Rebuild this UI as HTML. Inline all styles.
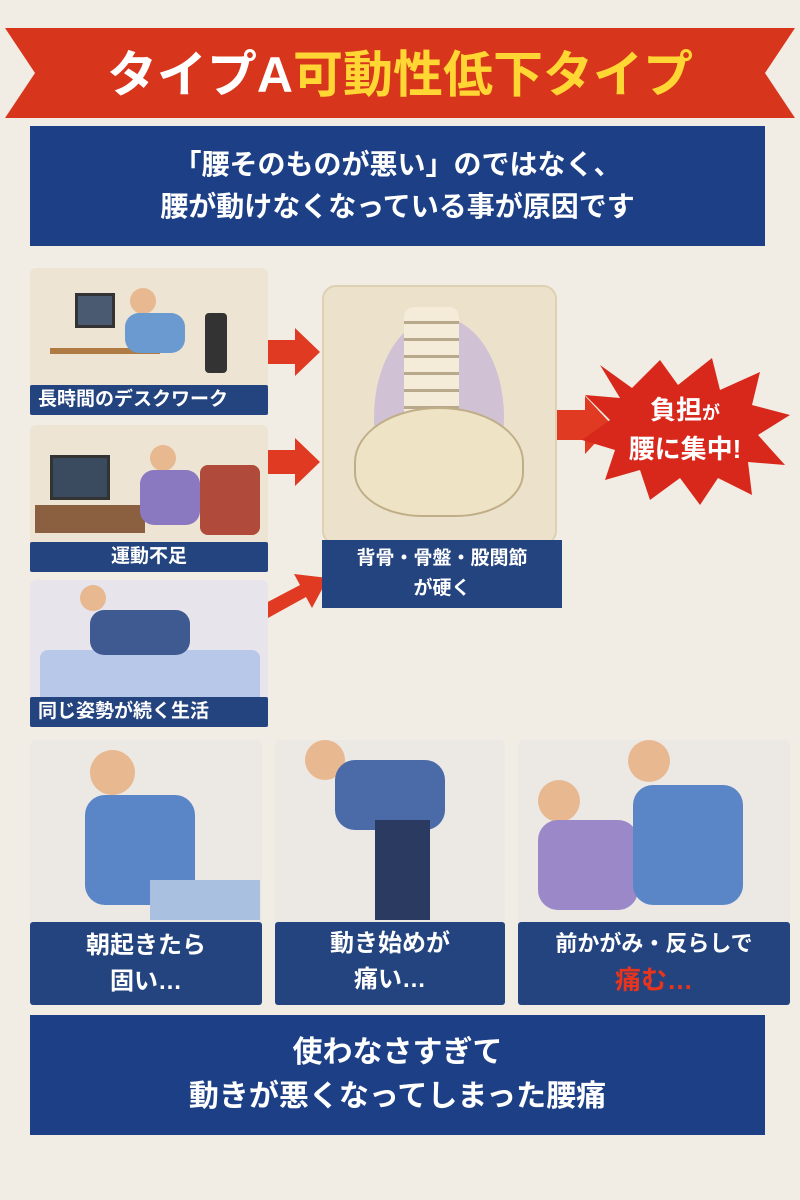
<!DOCTYPE html>
<html><head><meta charset="utf-8"><style>
*{margin:0;padding:0;box-sizing:border-box}
body{width:800px;height:1200px;background:#f1ede4;position:relative;overflow:hidden;font-family:"Liberation Sans","Noto Sans CJK JP",sans-serif;font-weight:bold}
.abs{position:absolute}
.blue{background:#1c3f86;color:#fff;text-align:center}
.lbl{position:absolute;background:#24447f;color:#fff;font-size:19px;padding-left:8px;line-height:30px;border-radius:2px}
.pan{position:absolute;border-radius:6px;overflow:hidden}
</style></head><body>
<svg class="abs" style="left:0;top:0" width="800" height="1200">
<polygon points="5,28 795,28 765,73 795,118 5,118 35,73" fill="#d8361c"/>
<polygon points="262,340 295,340 295,328 320,352 295,376 295,364 262,364" fill="#e03a22"/>
<polygon points="262,450 295,450 295,438 320,462 295,486 295,474 262,474" fill="#e03a22"/>
<polygon points="262,605 300,585 294,574 328,578 312,608 306,597 268,618" fill="#e03a22"/>
<polygon points="555,410 585,410 585,396 612,425 585,454 585,440 555,440" fill="#e03a22"/>
<polygon points="600,365 632,388 660,360 678,385 712,358 720,390 760,372 752,405 790,415 758,435 785,465 748,462 752,495 718,478 700,505 680,478 650,500 640,470 605,480 615,450 582,440 610,420 585,395 620,398" fill="#d8281c"/>
</svg>
<div class="abs" style="left:0;top:46px;width:800px;text-align:center;font-size:50px;color:#fff;line-height:58px">タイプA<span style="color:#ffd633">可動性低下タイプ</span></div>
<div class="abs blue" style="left:30px;top:126px;width:735px;height:120px;font-size:28px;line-height:42px;padding-top:18px">「腰そのものが悪い」のではなく、<br>腰が動けなくなっている事が原因です</div>

<div class="pan" style="left:30px;top:268px;width:238px;height:147px;background:#ede4d4">
 <div class="abs" style="left:45px;top:25px;width:40px;height:35px;background:#4a5a70;border:3px solid #333"></div>
 <div class="abs" style="left:20px;top:80px;width:110px;height:6px;background:#b07a45"></div>
 <div class="abs" style="left:100px;top:20px;width:26px;height:26px;border-radius:50%;background:#e8b890"></div>
 <div class="abs" style="left:95px;top:45px;width:60px;height:40px;border-radius:14px;background:#6a9ad0"></div>
 <div class="abs" style="left:175px;top:45px;width:22px;height:60px;background:#333;border-radius:4px"></div>
</div>
<div class="lbl" style="left:30px;top:385px;width:238px">長時間のデスクワーク</div>
<div class="pan" style="left:30px;top:425px;width:238px;height:147px;background:#ede4d4">
 <div class="abs" style="left:20px;top:30px;width:60px;height:45px;background:#3a4b60;border:3px solid #333"></div>
 <div class="abs" style="left:5px;top:80px;width:110px;height:28px;background:#8a6040"></div>
 <div class="abs" style="left:170px;top:40px;width:60px;height:70px;background:#b04a3a;border-radius:8px"></div>
 <div class="abs" style="left:120px;top:20px;width:26px;height:26px;border-radius:50%;background:#e8b890"></div>
 <div class="abs" style="left:110px;top:45px;width:60px;height:55px;border-radius:14px;background:#8a78c0"></div>
</div>
<div class="lbl" style="left:30px;top:542px;width:238px;text-align:center;padding:0">運動不足</div>
<div class="pan" style="left:30px;top:580px;width:238px;height:145px;background:#e8e4ec">
 <div class="abs" style="left:10px;top:70px;width:220px;height:60px;background:#b8c8e8;border-radius:8px"></div>
 <div class="abs" style="left:50px;top:5px;width:26px;height:26px;border-radius:50%;background:#e8b890"></div>
 <div class="abs" style="left:60px;top:30px;width:100px;height:45px;border-radius:14px;background:#3e5a90"></div>
</div>
<div class="lbl" style="left:30px;top:697px;width:238px">同じ姿勢が続く生活</div>

<div class="pan" style="left:322px;top:285px;width:235px;height:260px;background:#ece2cc;border:2px solid #ddd0b4;border-radius:14px">
 <div class="abs" style="left:50px;top:30px;width:130px;height:200px;border-radius:50%;background:#c4b4d8;opacity:.7"></div>
 <div class="abs" style="left:80px;top:20px;width:55px;height:120px;background:repeating-linear-gradient(#f4ecd8 0 14px,#b8a88c 14px 17px);border-radius:10px"></div>
 <div class="abs" style="left:30px;top:120px;width:170px;height:110px;background:#eee3c4;border-radius:50% 50% 40% 40%;border:2px solid #c0ae88"></div>
</div>
<div class="abs blue" style="left:322px;top:540px;width:240px;height:68px;background:#24447f;font-size:19px;line-height:30px;padding-top:4px">背骨・骨盤・股関節<br>が硬く</div>
<div class="abs" style="left:610px;top:392px;width:150px;text-align:center;color:#fff;font-size:26px;line-height:36px">負担<span style="font-size:18px">が</span><br>腰に集中!</div>

<div class="pan" style="left:30px;top:740px;width:232px;height:190px;background:#ece8e4">
 <div class="abs" style="left:60px;top:10px;width:45px;height:45px;border-radius:50%;background:#e8b890"></div>
 <div class="abs" style="left:55px;top:55px;width:110px;height:110px;border-radius:20px;background:#5a86c8"></div>
 <div class="abs" style="left:120px;top:140px;width:110px;height:40px;background:#aac0e0"></div>
</div>
<div class="pan" style="left:275px;top:740px;width:230px;height:190px;background:#ece8e4">
 <div class="abs" style="left:30px;top:0px;width:40px;height:40px;border-radius:50%;background:#e8b890"></div>
 <div class="abs" style="left:60px;top:20px;width:110px;height:70px;border-radius:20px;background:#4a6aa8"></div>
 <div class="abs" style="left:100px;top:80px;width:55px;height:100px;background:#2a3a60"></div>
</div>
<div class="pan" style="left:518px;top:740px;width:272px;height:190px;background:#ece8e4">
 <div class="abs" style="left:20px;top:40px;width:42px;height:42px;border-radius:50%;background:#e8b890"></div>
 <div class="abs" style="left:20px;top:80px;width:100px;height:90px;border-radius:20px;background:#9a88c8"></div>
 <div class="abs" style="left:110px;top:0px;width:42px;height:42px;border-radius:50%;background:#e8b890"></div>
 <div class="abs" style="left:115px;top:45px;width:110px;height:120px;border-radius:20px;background:#5a86c8"></div>
</div>
<div class="abs blue" style="left:30px;top:922px;width:232px;height:83px;background:#24447f;font-size:24px;line-height:36px;padding-top:6px;border-radius:3px">朝起きたら<br>固い…</div>
<div class="abs blue" style="left:275px;top:922px;width:230px;height:83px;background:#24447f;font-size:24px;line-height:36px;padding-top:4px;border-radius:3px">動き始めが<br>痛い…</div>
<div class="abs blue" style="left:518px;top:922px;width:272px;height:83px;background:#24447f;font-size:22px;line-height:36px;padding-top:4px;border-radius:3px">前かがみ・反らしで<br><span style="color:#e8341c;font-size:26px">痛む…</span></div>

<div class="abs blue" style="left:30px;top:1015px;width:735px;height:120px;font-size:30px;line-height:44px;padding-top:16px">使わなさすぎて<br>動きが悪くなってしまった腰痛</div>
</body></html>
